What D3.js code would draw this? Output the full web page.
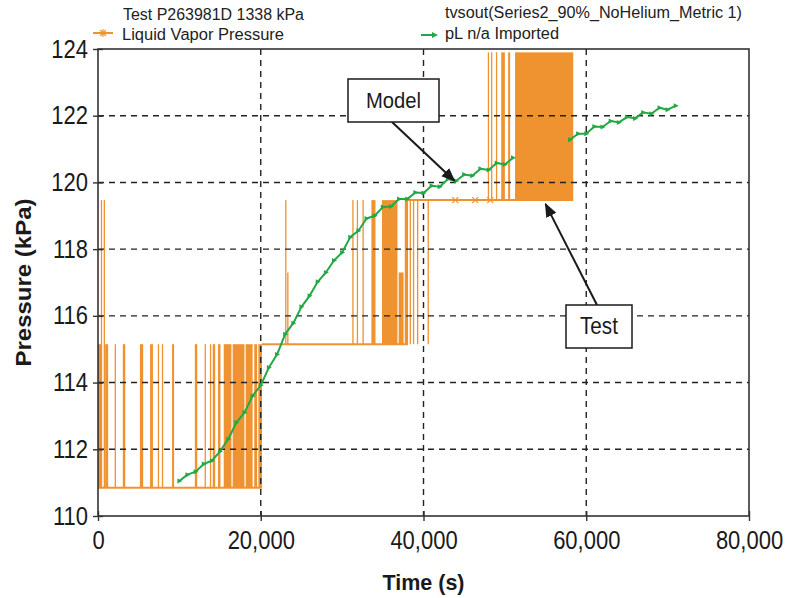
<!DOCTYPE html>
<html>
<head>
<meta charset="utf-8">
<script src="https://cdn.jsdelivr.net/npm/d3@7"></script>
<style>
  html, body { margin: 0; padding: 0; background: #fff; }
  svg { display: block; font-family: "Liberation Sans", Arial, sans-serif; }
</style>
</head>
<body>
<svg id="chart" width="788" height="598"></svg>
<script>
// ---- Model series: tvsout pL (time in s, pressure in kPa); null = no imported data
const modelTime = [
  10000, 11000, 12000, 13000, 14000, 15000, 16000, 17000, 18000, 19000,
  20000, 21000, 22000, 23000, 24000, 25000, 26000, 27000, 28000, 29000,
  30000, 31000, 32000, 33000, 34000, 35000, 36000, 37000, 38000, 39000,
  40000, 41000, 42000, 43000, 44000, 45000, 46000, 47000, 48000, 49000,
  50000, 51000, 54000,
  58000, 59000, 60000, 61000, 62000, 63000, 64000, 65000, 66000, 67000,
  68000, 69000, 70000, 71000
];
const modelPressure = [
  111.05, 111.24, 111.33, 111.56, 111.66, 111.94, 112.30, 112.80, 113.10, 113.60,
  113.92, 114.45, 114.84, 115.45, 115.78, 116.27, 116.60, 117.02, 117.30, 117.66,
  117.90, 118.36, 118.55, 118.92, 119.00, 119.26, 119.28, 119.50, 119.50, 119.70,
  119.68, 119.90, 119.87, 120.10, 120.04, 120.24, 120.20, 120.41, 120.37, 120.58,
  120.54, 120.74, null,
  121.28, 121.46, 121.46, 121.68, 121.66, 121.84, 121.80, 121.96, 121.92, 122.10,
  122.06, 122.24, 122.18, 122.30
];

// ---- Test series: holding levels of the liquid vapor pressure
const testLevelStart = [0, 20150, 38100];
const testLevelEnd   = [20150, 38100, 58400];
const testLevelValue = [110.85, 115.15, 119.47];

// ---- Test series: rapid excursions [start s, end s, low kPa, high kPa]
const testBursts = [
  [0, 450, 110.85, 115.15], [350, 420, 110.85, 119.47], [700, 770, 110.85, 119.47],
  [880, 1250, 110.85, 115.15], [2050, 2150, 110.85, 115.15], [3050, 3350, 110.85, 115.15],
  [5150, 5550, 110.85, 115.15], [6400, 6750, 110.85, 115.15], [7350, 7450, 110.85, 115.15],
  [7850, 7950, 110.85, 115.15], [9100, 9350, 110.85, 115.15], [11900, 12200, 110.85, 115.15],
  [13100, 13200, 110.85, 115.15], [13750, 13850, 110.85, 115.15], [14100, 14400, 110.85, 115.15],
  [14750, 15050, 110.85, 115.15], [15450, 16400, 110.85, 115.15], [16550, 18000, 110.85, 115.15],
  [18150, 19000, 110.85, 115.15], [19200, 19550, 110.85, 115.15], [19700, 20150, 110.85, 115.15],
  [23000, 23150, 115.15, 119.47], [23250, 23350, 115.15, 117.30],
  [31250, 31400, 115.15, 119.47], [31800, 31900, 115.15, 119.47], [32500, 32650, 115.15, 119.47],
  [33600, 34100, 115.15, 119.47], [34900, 36800, 115.15, 119.47], [36950, 37550, 115.15, 117.30],
  [37700, 38100, 115.15, 119.47],
  [38300, 38400, 115.15, 119.47], [38700, 38800, 115.15, 119.47], [39200, 39300, 115.15, 119.47],
  [40500, 40650, 115.15, 119.47],
  [47900, 48000, 119.47, 123.90], [48300, 48400, 119.47, 123.90], [48900, 49000, 119.47, 123.90],
  [49550, 50000, 119.47, 123.90], [50400, 50650, 119.47, 123.90],
  [51250, 58400, 119.47, 123.90]
];
// sample markers on the test trace [time s, kPa]
const testMarkers = [[43900, 119.47], [46350, 119.47], [48200, 119.47]];

// ---- Axes
const xTicks = [0, 20000, 40000, 60000, 80000];
const yTicks = [110, 112, 114, 116, 118, 120, 122, 124];

// ---- Callouts: label and the point (time s, kPa) the arrow points to
const callouts = [
  { label: "Model", t: 43800, p: 120.05 },
  { label: "Test",  t: 55000, p: 119.35 }
];

const ORANGE = "#EF9230";
const GREEN = "#22A845";
const INK = "#1a1a1a";

const svg = d3.select("#chart");
const pLeft = 98, pRight = 749, pTop = 49, pBottom = 516;

const x = d3.scaleLinear().domain([0, 80000]).range([pLeft, pRight]);
const y = d3.scaleLinear().domain([110, 124]).range([pBottom, pTop]);

// narrow the glyphs horizontally (condensed sans look), keeping the anchor in place
function condense(sel, f) {
  sel.each(function () {
    const t = d3.select(this);
    const x0 = +t.attr("x") || 0;
    t.attr("x", x0 / f).attr("transform", `scale(${f},1)`);
  });
}

svg.append("defs").append("marker")
  .attr("id", "arrow").attr("viewBox", "0 0 10 10")
  .attr("refX", 9).attr("refY", 5)
  .attr("markerWidth", 7).attr("markerHeight", 7)
  .attr("markerUnits", "strokeWidth")
  .attr("orient", "auto")
  .append("path").attr("d", "M0,1 L10,5 L0,9 Z").attr("fill", INK);

const plot = svg.append("g");

// Test trace: holding levels
plot.selectAll("line.level")
  .data(testLevelValue.map((v, i) => ({ t0: testLevelStart[i], t1: testLevelEnd[i], v })))
  .join("line")
  .attr("x1", d => x(d.t0)).attr("x2", d => x(d.t1))
  .attr("y1", d => y(d.v)).attr("y2", d => y(d.v))
  .attr("stroke", ORANGE).attr("stroke-width", 2);

// Test trace: excursions
plot.selectAll("rect.burst")
  .data(testBursts)
  .join("rect")
  .attr("x", d => x(d[0]))
  .attr("width", d => Math.max(1.3, x(d[1]) - x(d[0])))
  .attr("y", d => y(d[3]))
  .attr("height", d => y(d[2]) - y(d[3]))
  .attr("fill", ORANGE);

// sample markers on test trace
plot.selectAll("path.tm")
  .data(testMarkers)
  .join("path")
  .attr("transform", d => `translate(${x(d[0])},${y(d[1])})`)
  .attr("d", "M-3,-3L3,3M-3,3L3,-3")
  .attr("stroke", ORANGE).attr("stroke-width", 1.2);

// Grid
const grid = svg.append("g")
  .attr("stroke", "#222").attr("stroke-width", 1.4).attr("stroke-dasharray", "6,5");
grid.selectAll("line.gy")
  .data(yTicks.filter(v => v > 110 && v < 124))
  .join("line")
  .attr("x1", pLeft).attr("x2", pRight)
  .attr("y1", d => y(d)).attr("y2", d => y(d));
grid.selectAll("line.gx")
  .data(xTicks.filter(v => v > 0 && v < 80000))
  .join("line")
  .attr("y1", pTop).attr("y2", pBottom)
  .attr("x1", d => x(d)).attr("x2", d => x(d));

// Model trace
const pts = modelTime.map((t, i) => ({ t, p: modelPressure[i] }));
svg.append("path")
  .datum(pts)
  .attr("fill", "none")
  .attr("stroke", GREEN).attr("stroke-width", 2)
  .attr("stroke-linejoin", "round")
  .attr("d", d3.line().defined(d => d.p != null).x(d => x(d.t)).y(d => y(d.p)));
svg.append("g").selectAll("path")
  .data(pts.filter(d => d.p != null))
  .join("path")
  .attr("transform", d => `translate(${x(d.t)},${y(d.p)})`)
  .attr("d", "M-2,-2.5 L3,0 L-2,2.5 Z")
  .attr("fill", GREEN);

// Frame
svg.append("rect")
  .attr("x", pLeft).attr("y", pTop)
  .attr("width", pRight - pLeft).attr("height", pBottom - pTop)
  .attr("fill", "none").attr("stroke", "#333").attr("stroke-width", 1.6);

// Axes
svg.append("g").attr("transform", `translate(${pLeft},0)`)
  .call(d3.axisLeft(y).tickValues(yTicks).tickSize(5).tickPadding(5).tickFormat(d3.format("d")));
svg.append("g").attr("transform", `translate(${pLeft},0)`)
  .call(d3.axisLeft(y).tickValues(yTicks).tickSize(-5).tickFormat(""));
svg.append("g").attr("transform", `translate(0,${pBottom})`)
  .call(d3.axisBottom(x).tickValues(xTicks).tickSize(5).tickPadding(10).tickFormat(d3.format(",")));
svg.append("g").attr("transform", `translate(0,${pBottom})`)
  .call(d3.axisBottom(x).tickValues(xTicks).tickSize(-5).tickFormat(""));
svg.selectAll(".domain").remove();
svg.selectAll(".tick line").attr("stroke", "#333").attr("stroke-width", 1.4);
svg.selectAll(".tick text")
  .attr("font-family", "Liberation Sans, Arial, sans-serif")
  .attr("font-size", 25).attr("fill", INK)
  .call(condense, 0.88);

// Axis titles
svg.append("text")
  .attr("x", (pLeft + pRight) / 2).attr("y", 590)
  .attr("text-anchor", "middle")
  .attr("font-size", 22).attr("font-weight", "bold").attr("fill", INK)
  .attr("textLength", 82).attr("lengthAdjust", "spacingAndGlyphs")
  .text("Time (s)");
svg.append("text")
  .attr("transform", `translate(31,${(pTop + pBottom) / 2}) rotate(-90)`)
  .attr("text-anchor", "middle")
  .attr("font-size", 22).attr("font-weight", "bold").attr("fill", INK)
  .attr("textLength", 168).attr("lengthAdjust", "spacingAndGlyphs")
  .text("Pressure (kPa)");

// Legend
const legend = svg.append("g").attr("font-size", 16).attr("fill", "#222");
const legendText = (tx, ty, w, s) => legend.append("text")
  .attr("x", tx).attr("y", ty)
  .attr("textLength", w).attr("lengthAdjust", "spacingAndGlyphs")
  .text(s);
legendText(123, 20, 181, "Test P263981D 1338 kPa");
legendText(122, 40, 162, "Liquid Vapor Pressure");
legendText(445, 18, 297, "tvsout(Series2_90%_NoHelium_Metric 1)");
legendText(445, 39, 114, "pL n/a Imported");
legend.append("line").attr("x1", 93).attr("x2", 113).attr("y1", 33).attr("y2", 33)
  .attr("stroke", ORANGE).attr("stroke-width", 2);
legend.append("path").attr("transform", "translate(103,33)")
  .attr("d", "M-3,-3L3,3M-3,3L3,-3M0,-4L0,4").attr("stroke", ORANGE).attr("stroke-width", 1.1);
legend.append("line").attr("x1", 421).attr("x2", 433).attr("y1", 35).attr("y2", 35)
  .attr("stroke", GREEN).attr("stroke-width", 2);
legend.append("path").attr("d", "M432,32 L438,35 L432,38 Z").attr("fill", GREEN);

// Callouts
const boxes = [
  { x0: 348, y0: 79, w: 91, h: 43, from: [392, 122], size: 22, f: 0.92 },
  { x0: 566, y0: 305, w: 66, h: 43, from: [597, 305], size: 23, f: 0.9 }
];
callouts.forEach((c, i) => {
  const b = boxes[i];
  svg.append("line")
    .attr("x1", b.from[0]).attr("y1", b.from[1])
    .attr("x2", x(c.t)).attr("y2", y(c.p))
    .attr("stroke", INK).attr("stroke-width", 2)
    .attr("marker-end", "url(#arrow)");
  svg.append("rect")
    .attr("x", b.x0).attr("y", b.y0).attr("width", b.w).attr("height", b.h)
    .attr("fill", "#fff").attr("stroke", INK).attr("stroke-width", 1.5);
  svg.append("text")
    .attr("x", b.x0 + b.w / 2).attr("y", b.y0 + b.h / 2 + 8)
    .attr("text-anchor", "middle").attr("font-size", b.size).attr("fill", INK)
    .text(c.label)
    .call(condense, b.f);
});
</script>
</body>
</html>
